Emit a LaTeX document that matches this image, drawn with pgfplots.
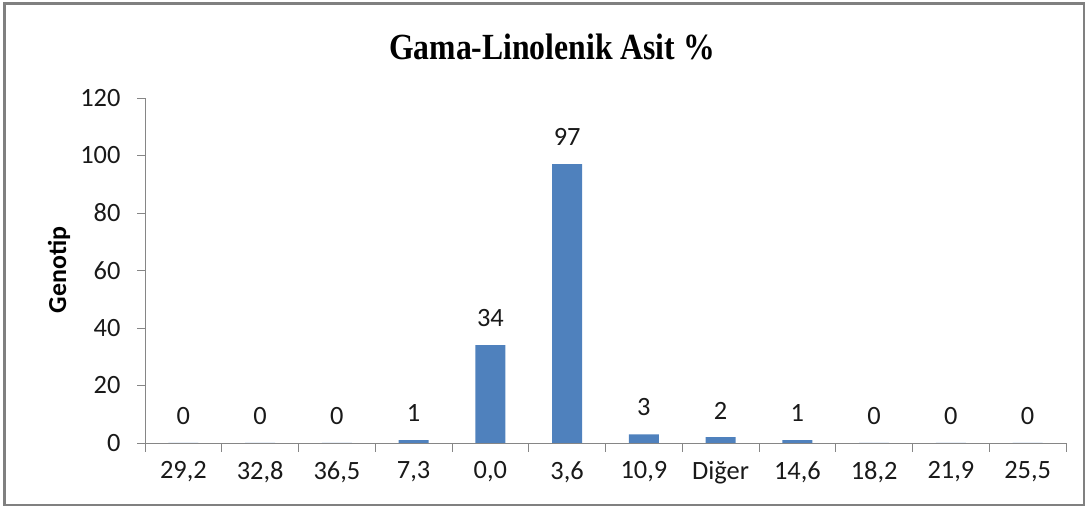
\documentclass[border=0pt]{standalone}
\usepackage{fontspec}
\setmainfont{Carlito}
\newfontfamily\titlefont[FakeStretch=0.86]{Liberation Serif}
\usepackage{pgfplots}
\pgfplotsset{compat=1.18}
\definecolor{barblue}{HTML}{4F81BD}
\definecolor{axgray}{HTML}{868686}
\definecolor{framegray}{HTML}{808080}
\begin{document}
\begin{tikzpicture}[x=1bp,y=1bp]
\useasboundingbox (0,0) rectangle (1088,509);
\draw[color=framegray, line width=2.5bp] (4.5,4) rectangle (1084,505.5);
\begin{axis}[
  at={(145bp,66bp)}, anchor=south west,
  scale only axis, width=921bp, height=345bp,
  ymin=0, ymax=120, xmin=-0.5, xmax=11.5,
  axis lines=left,
  axis line style={-, draw=axgray, line width=0.9bp},
  ytick={0,20,...,120},
  tick align=outside,
  major tick length=8bp, minor tick length=9bp,
  xtick={0,...,11},
  xticklabels={{29,2},{32,8},{36,5},{7,3},{0,0},{3,6},{10,9},{Diğer},{14,6},{18,2},{21,9},{25,5}},
  minor xtick={-0.5,0.5,...,11.5},
  major x tick style={draw=none},
  minor x tick style={draw=axgray, line width=0.9bp},
  y tick style={draw=axgray, line width=0.9bp},
  tick label style={font=\fontsize{26.5}{30}\selectfont, text=black!90},
  /pgf/number format/assume math mode=true,
  yticklabel style={xshift=-13bp},
  xticklabel style={yshift=-7bp},
  ybar, bar width=30bp,
  nodes near coords,
  every node near coord/.append style={font=\fontsize{26.5}{30}\selectfont, text=black!90, inner sep=0pt, yshift=18bp},
  clip=false,
]
\addplot[fill=barblue, draw=none] coordinates {
(0,0) (1,0) (2,0) (3,1) (4,34) (5,97) (6,3) (7,2) (8,1) (9,0) (10,0) (11,0)
};
\end{axis}
\node[rotate=90, font=\bfseries\fontsize{26}{30}\selectfont] at (59bp,239bp) {Genotip};
\node[font=\titlefont\bfseries\fontsize{37}{42}\selectfont] at (552bp,462bp) {Gama-Linolenik Asit \%};
\end{tikzpicture}
\end{document}
